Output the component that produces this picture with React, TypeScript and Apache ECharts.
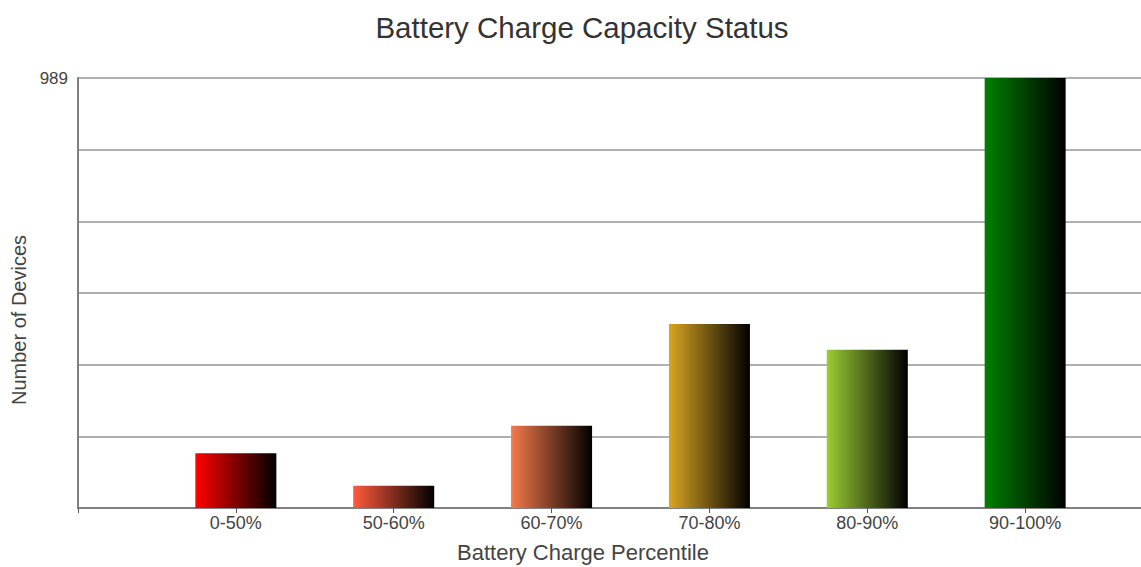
import React, { useEffect, useRef } from "react";
import * as echarts from "echarts";

const categories = ["0-50%", "50-60%", "60-70%", "70-80%", "80-90%", "90-100%"];
const deviceCounts = [126, 51, 189, 423, 364, 989];
const barColors = ["#ff0000", "#ff5a3c", "#f47a4a", "#daa520", "#9acd32", "#008000"];
const yMax = 989;
const yTickLabels = ["989"];

const FONT = "'Liberation Sans', Arial, sans-serif";

export default function App() {
  const ref = useRef<HTMLDivElement>(null);

  useEffect(() => {
    if (!ref.current) return;
    const chart = echarts.init(ref.current, null, { renderer: "svg" });

    const axisData = ["", ...categories, ""];
    const seriesData: any[] = ["-"];
    deviceCounts.forEach((v, i) => {
      seriesData.push({
        value: v,
        itemStyle: {
          color: new echarts.graphic.LinearGradient(0, 0, 1, 0, [
            { offset: 0, color: barColors[i] },
            { offset: 1, color: "#000000" },
          ]),
        },
      });
    });
    seriesData.push("-");

    chart.setOption({
      animation: false,
      backgroundColor: "#ffffff",
      textStyle: { fontFamily: FONT },
      grid: { left: 78, top: 78, right: 0, bottom: 59, containLabel: false },
      graphic: [
        {
          type: "text",
          x: 582,
          y: 27,
          style: {
            text: "Battery Charge Capacity Status",
            fontSize: 29.5,
            fontFamily: FONT,
            fill: "#333333",
            align: "center",
            verticalAlign: "middle",
          },
        },
        {
          type: "text",
          x: 583,
          y: 552,
          style: {
            text: "Battery Charge Percentile",
            fontSize: 22,
            fontFamily: FONT,
            fill: "#444444",
            align: "center",
            verticalAlign: "middle",
          },
        },
        {
          type: "text",
          x: 19,
          y: 320,
          rotation: Math.PI / 2,
          style: {
            text: "Number of Devices",
            fontSize: 20,
            fontFamily: FONT,
            fill: "#444444",
            align: "center",
            verticalAlign: "middle",
          },
        },
      ],
      xAxis: {
        type: "category",
        data: axisData,
        boundaryGap: false,
        axisLine: { show: true, lineStyle: { color: "#808080", width: 2 } },
        axisTick: { show: true, length: 5, lineStyle: { color: "#555555", width: 1 } },
        axisLabel: { show: true, fontSize: 18, color: "#444444", margin: 6, fontFamily: FONT, interval: 0 },
        splitLine: { show: false },
      },
      yAxis: {
        type: "value",
        min: 0,
        max: yMax,
        interval: yMax / 6,
        axisLine: { show: true, lineStyle: { color: "#808080", width: 2 } },
        axisTick: { show: false },
        splitLine: { show: true, lineStyle: { color: "#b0b0b0", width: 2 } },
        axisLabel: {
          fontSize: 17,
          color: "#444444",
          margin: 10,
          fontFamily: FONT,
          verticalAlign: "middle",
          padding: [0, 0, 10, 0],
          formatter: (v: number) => (Math.round(v) === yMax ? yTickLabels[0] : ""),
        },
      },
      series: [
        {
          type: "bar",
          data: seriesData,
          barWidth: 81,
        },
      ],
    });

    return () => chart.dispose();
  }, []);

  return (
    <div
      style={{ position: "absolute", left: 0, top: 0, width: 1141, height: 567, overflow: "hidden" }}
    >
      <div ref={ref} style={{ width: 1186, height: 567 }} />
    </div>
  );
}
